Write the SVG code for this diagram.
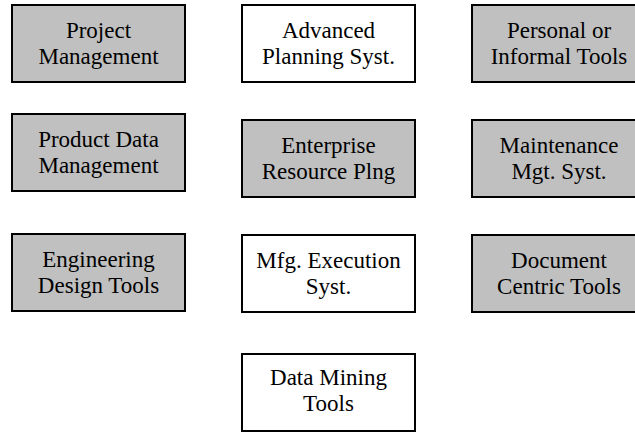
<svg xmlns="http://www.w3.org/2000/svg" width="635" height="432" viewBox="0 0 635 432">
<style>
.box{stroke:#000;stroke-width:2}
.g{fill:#c0c0c0}
.w{fill:#fff}
.t{font-family:'Liberation Serif',Tinos,'Times New Roman',Times,'Nimbus Roman','DejaVu Serif',serif;font-size:23px;fill:#000;text-anchor:middle}
</style>
<rect width="635" height="432" fill="#fff"/>
<g id="connectors"></g>
<g id="project-management"><rect class="box g" x="12" y="5" width="173" height="77"/><text class="t" x="98.5" y="38">Project</text><text class="t" x="98.5" y="64">Management</text></g>
<g id="advanced-planning"><rect class="box w" x="242" y="5" width="173" height="77"/><text class="t" x="328.5" y="38">Advanced</text><text class="t" x="328.5" y="64">Planning Syst.</text></g>
<g id="personal-tools"><rect class="box g" x="472" y="5" width="174" height="77"/><text class="t" x="559" y="38">Personal or</text><text class="t" x="559" y="64">Informal Tools</text></g>
<g id="product-data"><rect class="box g" x="12" y="114" width="173" height="77"/><text class="t" x="98.5" y="147">Product Data</text><text class="t" x="98.5" y="173">Management</text></g>
<g id="erp"><rect class="box g" x="242" y="120" width="173" height="77"/><text class="t" x="328.5" y="153">Enterprise</text><text class="t" x="328.5" y="179">Resource Plng</text></g>
<g id="maintenance"><rect class="box g" x="472" y="120" width="174" height="77"/><text class="t" x="559" y="153">Maintenance</text><text class="t" x="559" y="179">Mgt. Syst.</text></g>
<g id="engineering-design"><rect class="box g" x="12" y="234" width="173" height="77"/><text class="t" x="98.5" y="267">Engineering</text><text class="t" x="98.5" y="293">Design Tools</text></g>
<g id="mfg-execution"><rect class="box w" x="242" y="235" width="173" height="77"/><text class="t" x="328.5" y="268">Mfg. Execution</text><text class="t" x="328.5" y="294">Syst.</text></g>
<g id="document-centric"><rect class="box g" x="472" y="235" width="174" height="77"/><text class="t" x="559" y="268">Document</text><text class="t" x="559" y="294">Centric Tools</text></g>
<g id="data-mining"><rect class="box w" x="242" y="354" width="173" height="77"/><text class="t" x="328.5" y="385">Data Mining</text><text class="t" x="328.5" y="411">Tools</text></g>
</svg>
